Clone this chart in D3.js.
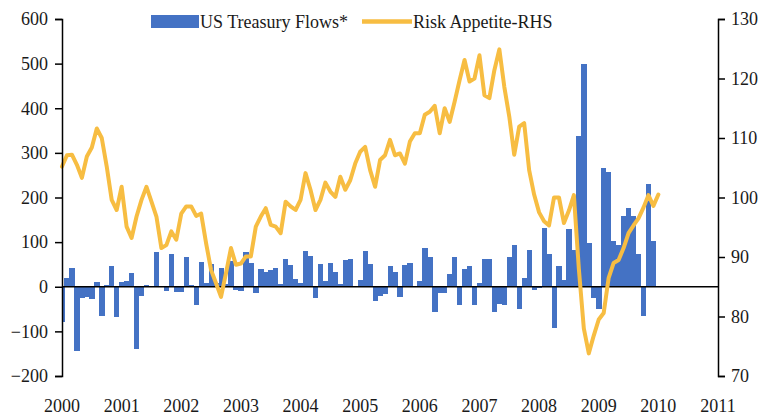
<!DOCTYPE html>
<html>
<head>
<meta charset="utf-8">
<script src="https://cdn.jsdelivr.net/npm/d3@7"></script>
<style>
  body { margin: 0; background: #fff; }
  text { font-family: "Liberation Serif", "Times New Roman", serif; }
</style>
</head>
<body>
<div id="chart"></div>
<script>
////// DATA

// first month of the data (Jan 2000), one value per month
var startYear = 2000;

// US Treasury flows, left axis
var flows = [
  -80, 19, 43, -143, -25, -22, -27, 10, -65, 3, 47, -68,      // 2000
  10, 14, 30, -140, -20, 3, 1, 78, 2, -10, 74, -12,           // 2001
  -12, 66, 3, -40, 55, 8, 50, 8, 42, 6, 58, -8,               // 2002
  -10, 78, 53, -14, 40, 34, 37, 43, 6, 62, 48, 17,            // 2003
  8, 81, 69, -25, 51, 12, 54, 34, 6, 59, 63, 0,               // 2004
  16, 81, 51, -33, -20, -16, 47, 32, -22, 48, 54, 0,          // 2005
  12, 87, 66, -57, -14, -13, 28, 66, -42, 39, 47, -41,        // 2006
  8, 62, 62, -56, -38, -40, 66, 93, -49, 19, 82, -7,          // 2007
  -3, 132, 74, -93, 47, 16, 129, 83, 338, 499, 98, -25,       // 2008
  -50, 265, 257, 102, 93, 159, 176, 159, 74, -65, 230, 102    // 2009
];

// risk appetite index, right axis (Jan 2000 .. Jan 2010)
var riskAppetite = [
  105.2, 107.1, 107.2, 105.5, 103.3, 106.9, 108.4, 111.6, 110.0, 105.2, 99.6, 97.9,
  101.8, 95.1, 93.2, 96.8, 99.6, 101.8, 99.3, 96.8, 91.5, 92.0, 94.3, 92.9,
  97.3, 98.5, 98.5, 96.9, 97.3, 92.3, 87.8, 85.6, 83.3, 87.3, 91.5, 88.7,
  88.9, 90.1, 90.1, 95.1, 96.8, 98.2, 95.4, 95.1, 94.0, 99.3, 98.5, 97.9,
  99.6, 104.1, 101.3, 97.9, 99.6, 102.5, 101.0, 100.1, 103.5, 101.3, 102.9, 105.7,
  107.7, 108.5, 104.6, 101.8, 106.3, 107.1, 109.7, 107.1, 107.4, 105.7, 109.4, 110.8,
  110.8, 113.9, 114.4, 115.4, 110.8, 115.0, 112.7, 116.1, 119.7, 123.1, 119.5, 120.0,
  123.9, 117.2, 116.7, 121.4, 124.9, 118.6, 113.6, 107.2, 111.9, 112.5, 104.6, 100.5,
  97.5, 96.0, 95.3, 100.0, 100.0, 95.7, 97.8, 100.4, 88.0, 78.0, 73.8, 76.8,
  79.5, 80.6, 86.5, 89.0, 89.5, 91.5, 94.0, 95.3, 96.5, 98.3, 100.4, 98.6,
  100.5
];

var yearTicks = [2000, 2001, 2002, 2003, 2004, 2005, 2006, 2007, 2008, 2009, 2010, 2011];
var leftTicks = [-200, -100, 0, 100, 200, 300, 400, 500, 600];
var rightTicks = [70, 80, 90, 100, 110, 120, 130];
var seriesNames = ["US Treasury Flows*", "Risk Appetite-RHS"];

////// CHART

var width = 765, height = 415;
var margin = { left: 62, right: 47, top: 19, bottom: 39 };

var barColor = "#4472c4", lineColor = "#f7bd42", textColor = "#1a1a1a";

var svg = d3.select("#chart")
  .append("svg")
  .attr("width", width)
  .attr("height", height);

// Skalen
var x = d3.scaleLinear()
  .domain([2000, 2011])
  .range([margin.left, width - margin.right]);

var yLeft = d3.scaleLinear()
  .domain([-200, 600])
  .range([height - margin.bottom, margin.top]);

var yRight = d3.scaleLinear()
  .domain([70, 130])
  .range([height - margin.bottom, margin.top]);

var monthDate = function(i) { return startYear + i / 12; };
var barWidth = x(2000 + 1 / 12) - x(2000);

svg.append("clipPath")
  .attr("id", "plot")
  .append("rect")
  .attr("x", x(2000))
  .attr("y", 0)
  .attr("width", x(2011) - x(2000))
  .attr("height", height);

// Balken
svg.append("g")
  .attr("clip-path", "url(#plot)")
  .selectAll("rect")
  .data(flows)
  .enter()
  .append("rect")
  .attr("x", function(d, i) { return x(monthDate(i)) - barWidth / 2; })
  .attr("y", function(d) { return yLeft(Math.max(0, d)); })
  .attr("width", barWidth + 0.3)
  .attr("height", function(d) { return Math.abs(yLeft(d) - yLeft(0)); })
  .style("fill", barColor)
  .attr("shape-rendering", "crispEdges");

// Null-Linie
svg.append("line")
  .attr("x1", x(2000))
  .attr("x2", x(2011))
  .attr("y1", yLeft(0))
  .attr("y2", yLeft(0))
  .style("stroke", "#000")
  .style("stroke-width", 1.5);

// Linie
var line = d3.line()
  .x(function(d, i) { return x(monthDate(i)); })
  .y(function(d) { return yRight(d); });

svg.append("path")
  .datum(riskAppetite)
  .attr("d", line)
  .style("fill", "none")
  .style("stroke", lineColor)
  .style("stroke-width", 4)
  .style("stroke-linejoin", "round")
  .style("stroke-linecap", "round");

// Achsen
var leftAxis = svg.append("g")
  .attr("transform", "translate(" + x(2000) + ",0)")
  .call(d3.axisLeft(yLeft).tickValues(leftTicks).tickSize(7).tickPadding(7));

var rightAxis = svg.append("g")
  .attr("transform", "translate(" + x(2011) + ",0)")
  .call(d3.axisRight(yRight).tickValues(rightTicks).tickSize(7).tickPadding(6));

[leftAxis, rightAxis].forEach(function(a) {
  a.selectAll("path, line").style("stroke", "#000").style("stroke-width", 1.5);
  a.selectAll("text")
    .style("font-family", "'Liberation Serif', serif")
    .style("font-size", "18px")
    .style("fill", textColor);
});

// Jahre unten
svg.append("g")
  .selectAll("text")
  .data(yearTicks)
  .enter()
  .append("text")
  .attr("x", function(d) { return x(d); })
  .attr("y", 412)
  .attr("text-anchor", "middle")
  .style("font-size", "18px")
  .style("fill", textColor)
  .text(function(d) { return d; });

// Legende
var legend = svg.append("g");

legend.append("rect")
  .attr("x", 151)
  .attr("y", 15)
  .attr("width", 48)
  .attr("height", 13)
  .style("fill", barColor);

legend.append("text")
  .attr("x", 200)
  .attr("y", 28)
  .style("font-size", "18px")
  .style("fill", textColor)
  .text(seriesNames[0]);

legend.append("line")
  .attr("x1", 362)
  .attr("x2", 412)
  .attr("y1", 21.5)
  .attr("y2", 21.5)
  .style("stroke", lineColor)
  .style("stroke-width", 4.5);

legend.append("text")
  .attr("x", 413)
  .attr("y", 28)
  .style("font-size", "18px")
  .style("fill", textColor)
  .text(seriesNames[1]);
</script>
</body>
</html>
